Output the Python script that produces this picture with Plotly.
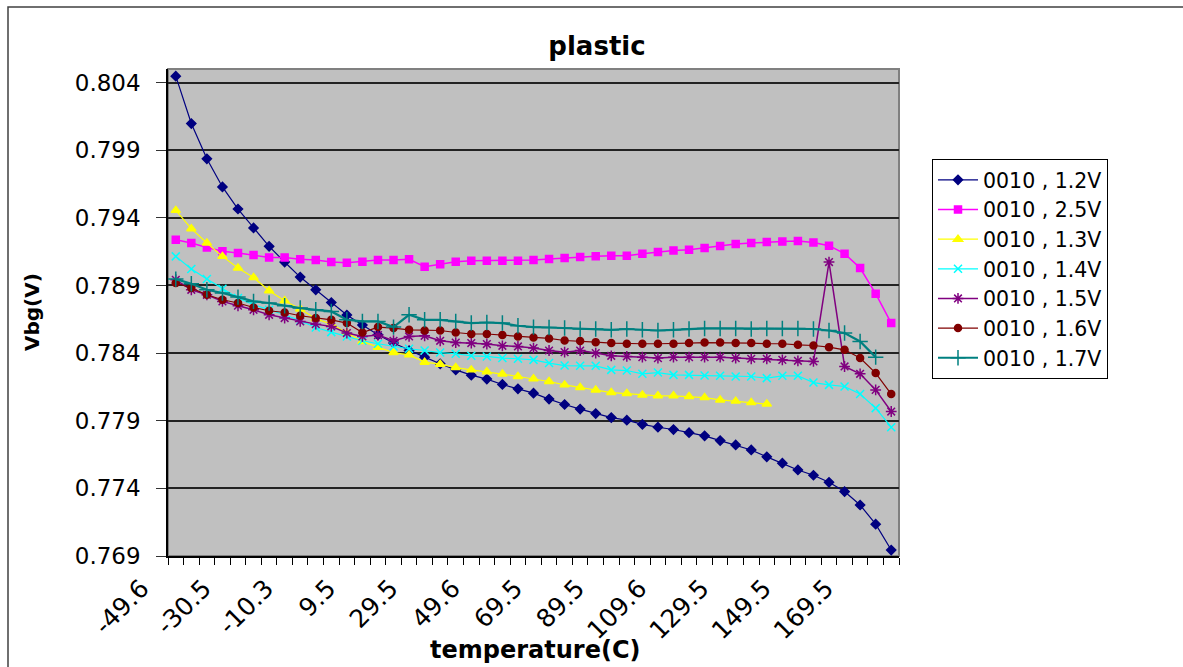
import plotly.graph_objects as go

temps = [-49.6, -44.8, -40.1, -35.3, -30.5, -25.4, -20.4, -15.3, -10.3, -5.3, -0.4, 4.6,
         9.5, 14.5, 19.5, 24.5, 29.5, 34.5, 39.5, 44.6, 49.6, 54.6, 59.5, 64.5,
         69.5, 74.5, 79.5, 84.5, 89.5, 94.5, 99.5, 104.6, 109.6, 114.5, 119.5, 124.5,
         129.5, 134.5, 139.5, 144.5, 149.5, 154.5, 159.5, 164.5, 169.5, 174.5, 179.5]

v12 = [0.80447, 0.80097, 0.79836, 0.79628, 0.79465, 0.79325, 0.79189, 0.79073, 0.78962, 0.78868,
       0.78774, 0.78681, 0.78607, 0.78535, 0.78474, 0.78419, 0.78370, 0.78321, 0.78276, 0.78237,
       0.78208, 0.78168, 0.78136, 0.78104, 0.78060, 0.78020, 0.77986, 0.77953, 0.77923, 0.77904,
       0.77873, 0.77852, 0.77835, 0.77812, 0.77788, 0.77753, 0.77721, 0.77684, 0.77633, 0.77586,
       0.77536, 0.77497, 0.77445, 0.77376, 0.77277, 0.77135, 0.76944]

v25 = [0.79238, 0.79214, 0.79181, 0.79152, 0.79140, 0.79125, 0.79107, 0.79107, 0.79093, 0.79088,
       0.79073, 0.79068, 0.79076, 0.79088, 0.79088, 0.79093, 0.79039, 0.79056, 0.79076, 0.79083,
       0.79083, 0.79083, 0.79083, 0.79088, 0.79095, 0.79103, 0.79110, 0.79115, 0.79120, 0.79120,
       0.79135, 0.79147, 0.79159, 0.79164, 0.79177, 0.79192, 0.79207, 0.79214, 0.79221, 0.79224,
       0.79229, 0.79218, 0.79194, 0.79135, 0.79029, 0.78839, 0.78622]

v13 = [0.79455, 0.79320, 0.79214, 0.79115, 0.79029, 0.78959, 0.78861, 0.78787, 0.78726, 0.78654,
       0.78614, 0.78548, 0.78486, 0.78444, 0.78404, 0.78387, 0.78333, 0.78318, 0.78293, 0.78276,
       0.78262, 0.78245, 0.78227, 0.78210, 0.78190, 0.78165, 0.78145, 0.78128, 0.78108, 0.78101,
       0.78091, 0.78084, 0.78084, 0.78079, 0.78071, 0.78054, 0.78045, 0.78034, 0.78023,
       None, None, None, None, None, None, None, None]

v14 = [0.79115, 0.79022, 0.78947, 0.78876, 0.78807, 0.78757, 0.78720, 0.78683, 0.78639, 0.78589,
       0.78555, 0.78523, 0.78491, 0.78469, 0.78449, 0.78432, 0.78419, 0.78404, 0.78395, 0.78380,
       0.78375, 0.78363, 0.78358, 0.78350, 0.78326, 0.78308, 0.78306, 0.78306, 0.78276, 0.78271,
       0.78247, 0.78256, 0.78239, 0.78239, 0.78234, 0.78232, 0.78227, 0.78227, 0.78215, 0.78232,
       0.78232, 0.78182, 0.78165, 0.78153, 0.78097, 0.77993, 0.77852]

v15 = [0.78942, 0.78868, 0.78831, 0.78782, 0.78750, 0.78720, 0.78683, 0.78659, 0.78634, 0.78614,
       0.78597, 0.78548, 0.78523, 0.78533, 0.78491, 0.78523, 0.78528, 0.78491, 0.78478, 0.78474,
       0.78467, 0.78454, 0.78449, 0.78437, 0.78419, 0.78407, 0.78419, 0.78400, 0.78380, 0.78375,
       0.78370, 0.78363, 0.78370, 0.78370, 0.78370, 0.78370, 0.78363, 0.78358, 0.78358, 0.78350,
       0.78343, 0.78338, 0.79073, 0.78301, 0.78247, 0.78128, 0.77968]

v16 = [0.78918, 0.78881, 0.78831, 0.78794, 0.78770, 0.78737, 0.78713, 0.78700, 0.78676, 0.78659,
       0.78646, 0.78622, 0.78552, 0.78592, 0.78585, 0.78572, 0.78567, 0.78567, 0.78552, 0.78541,
       0.78541, 0.78533, 0.78523, 0.78515, 0.78508, 0.78493, 0.78489, 0.78481, 0.78474, 0.78469,
       0.78469, 0.78469, 0.78469, 0.78474, 0.78478, 0.78478, 0.78474, 0.78474, 0.78469, 0.78469,
       0.78461, 0.78456, 0.78444, 0.78424, 0.78363, 0.78252, 0.78097]

v17 = [0.78947, 0.78913, 0.78868, 0.78844, 0.78814, 0.78782, 0.78770, 0.78750, 0.78733, 0.78720,
       0.78708, 0.78646, 0.78634, 0.78634, 0.78592, 0.78683, 0.78646, 0.78646, 0.78634, 0.78622,
       0.78626, 0.78622, 0.78602, 0.78592, 0.78589, 0.78585, 0.78578, 0.78578, 0.78572, 0.78578,
       0.78572, 0.78567, 0.78572, 0.78578, 0.78582, 0.78582, 0.78582, 0.78578, 0.78582, 0.78582,
       0.78582, 0.78578, 0.78567, 0.78548, 0.78486, 0.78370, None]

series_names = ["0010 , 1.2V", "0010 , 2.5V", "0010 , 1.3V", "0010 , 1.4V",
                "0010 , 1.5V", "0010 , 1.6V", "0010 , 1.7V"]
series_values = [v12, v25, v13, v14, v15, v16, v17]
series_colors = ["#000080", "#FF00FF", "#FFFF00", "#00FFFF", "#800080", "#800000", "#008080"]
series_symbols = ["diamond", "square", "triangle-up", "x-thin-open", "asterisk-open",
                  "circle", "cross-thin-open"]
series_msize = [7, 7, 8, 8, 9, 7, 11]
series_lw = [1.2, 1.5, 1.2, 1.2, 1.5, 1.2, 2.2]

label_every = 4
idx = list(range(len(temps)))
tick_idx = idx[::label_every]
tick_txt = [f"{temps[i]:g}" for i in tick_idx]

fig = go.Figure()
for name, vals, col, sym, ms, lw in zip(series_names, series_values, series_colors,
                                         series_symbols, series_msize, series_lw):
    fig.add_trace(go.Scatter(
        x=idx, y=vals, name=name, mode="lines+markers",
        line=dict(color=col, width=lw),
        marker=dict(symbol=sym, size=ms, color=col, line=dict(color=col, width=1.5)),
        connectgaps=False,
    ))

L, R, T, B = 168, 284, 69, 111
W, H = 1183, 667
pw = W - L - R
ph = H - T - B

fig.update_layout(
    width=W, height=H,
    margin=dict(l=L, r=R, t=T, b=B, pad=0),
    paper_bgcolor="white",
    plot_bgcolor="#C0C0C0",
    font=dict(family="DejaVu Sans", size=22, color="black"),
    title=dict(text="<b>plastic</b>", x=597 / W, xanchor="center",
               y=1 - 46 / H, yanchor="middle",
               font=dict(family="DejaVu Sans", size=26, color="black")),
    showlegend=True,
    legend=dict(x=(932 - L) / pw, y=(H - B - 159) / ph, xanchor="left", yanchor="top",
                bgcolor="white", bordercolor="black", borderwidth=1,
                font=dict(family="DejaVu Sans", size=20.5, color="black"),
                itemsizing="trace", itemwidth=40, tracegroupgap=0),
    xaxis=dict(
        range=[-0.5, len(temps) - 0.5],
        tickmode="array", tickvals=tick_idx, ticktext=tick_txt,
        ticks="", tickangle=-45, ticklabelstandoff=6, ticklabelshift=-34,
        showgrid=False, zeroline=False,
        showline=True, linecolor="black", linewidth=1.5,
        minor=dict(tickmode="linear", tick0=-0.5, dtick=1, ticks="outside",
                   ticklen=7, tickwidth=1, tickcolor="black", showgrid=False),
        tickfont=dict(family="DejaVu Sans", size=25, color="black"),
    ),
    yaxis=dict(
        range=[0.769, 0.805],
        tickmode="linear", tick0=0.769, dtick=0.005, tickformat=".3f",
        ticks="outside", ticklen=10, tickwidth=1.2, tickcolor="#333333",
        ticklabelstandoff=11,
        showgrid=True, gridcolor="#222222", gridwidth=1.5,
        zeroline=False,
        showline=True, linecolor="black", linewidth=1.5,
        tickfont=dict(family="DejaVu Sans", size=23, color="black"),
    ),
    annotations=[
        dict(text="<b>temperature(C)</b>", xref="paper", yref="paper",
             x=(535 - L) / pw, y=(H - B - 650) / ph, xanchor="center", yanchor="middle",
             showarrow=False, font=dict(family="DejaVu Sans", size=24, color="black")),
        dict(text="<b>Vbg(V)</b>", xref="paper", yref="paper", textangle=-90,
             x=(32 - L) / pw, y=(H - B - 312) / ph, xanchor="center", yanchor="middle",
             showarrow=False, font=dict(family="DejaVu Sans", size=20, color="black")),
    ],
    shapes=[
        dict(type="rect", xref="paper", yref="paper", x0=0, x1=1, y0=0, y1=1,
             line=dict(color="#808080", width=2), layer="below"),
        dict(type="rect", xref="paper", yref="paper",
             x0=(8 - L) / pw, x1=(1400 - L) / pw, y0=(H - B - 800) / ph, y1=(H - B - 7) / ph,
             line=dict(color="#404040", width=1.5), layer="below"),
    ],
)

fig.write_html("out.html")
